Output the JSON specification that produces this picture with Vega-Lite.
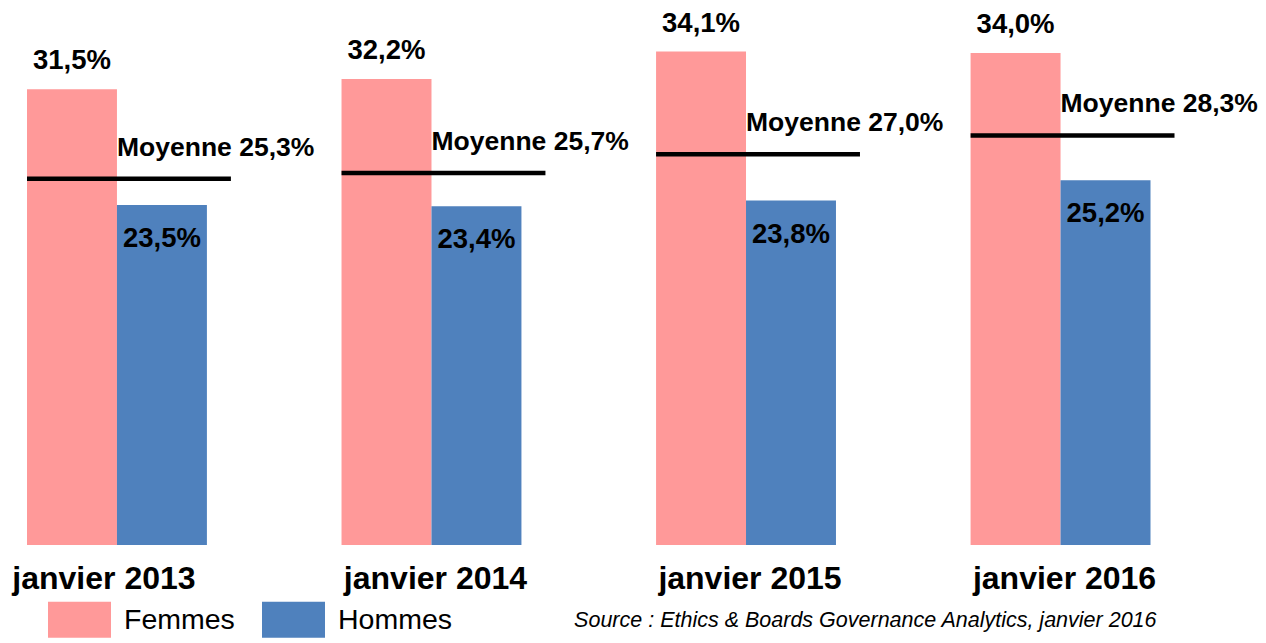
{
  "$schema": "https://vega.github.io/schema/vega-lite/v6.json",
  "width": 1123.5,
  "height": 545,
  "autosize": {"type": "none"},
  "padding": {"left": 27, "top": 0, "right": 115.5, "bottom": 98},
  "background": "white",
  "title": {
    "text": "Source : Ethics & Boards Governance Analytics, janvier 2016",
    "orient": "bottom",
    "anchor": "end",
    "frame": "group",
    "offset": -28,
    "dx": 6,
    "font": "Liberation Sans",
    "fontSize": 21.5,
    "fontStyle": "italic",
    "fontWeight": "normal",
    "color": "black"
  },
  "datasets": {
    "barres": [
      {"annee": "janvier 2013", "sexe": "Femmes", "part": 0.315},
      {"annee": "janvier 2013", "sexe": "Hommes", "part": 0.235},
      {"annee": "janvier 2014", "sexe": "Femmes", "part": 0.322},
      {"annee": "janvier 2014", "sexe": "Hommes", "part": 0.234},
      {"annee": "janvier 2015", "sexe": "Femmes", "part": 0.341},
      {"annee": "janvier 2015", "sexe": "Hommes", "part": 0.238},
      {"annee": "janvier 2016", "sexe": "Femmes", "part": 0.340},
      {"annee": "janvier 2016", "sexe": "Hommes", "part": 0.252}
    ],
    "moyennes": [
      {"annee": "janvier 2013", "moyenne": 0.253},
      {"annee": "janvier 2014", "moyenne": 0.257},
      {"annee": "janvier 2015", "moyenne": 0.270},
      {"annee": "janvier 2016", "moyenne": 0.283}
    ]
  },
  "encoding": {
    "x": {
      "field": "annee",
      "type": "nominal",
      "sort": null,
      "scale": {"paddingInner": 0.428, "paddingOuter": 0},
      "axis": {
        "title": null,
        "labelAngle": 0,
        "domain": false,
        "ticks": false,
        "grid": false,
        "labelPadding": 18,
        "labelLimit": 0,
        "labelFont": "Liberation Sans",
        "labelFontSize": 32,
        "labelFontWeight": "bold",
        "labelColor": "black",
        "labelOffset": {"condition": {"test": "datum.value === 'janvier 2013'", "value": -13}, "value": 4}
      }
    },
    "y": {
      "field": "part",
      "type": "quantitative",
      "scale": {"domain": [0, 0.3766], "nice": false, "zero": true},
      "axis": null
    }
  },
  "layer": [
    {
      "data": {"name": "barres"},
      "mark": {"type": "bar", "opacity": 1},
      "encoding": {
        "xOffset": {
          "field": "sexe",
          "type": "nominal",
          "scale": {"paddingInner": 0, "paddingOuter": 0}
        },
        "color": {
          "field": "sexe",
          "type": "nominal",
          "scale": {"domain": ["Femmes", "Hommes"], "range": ["#FF9999", "#4F81BD"]},
          "legend": {
            "title": null,
            "orient": "none",
            "direction": "horizontal",
            "legendX": 21,
            "legendY": 588,
            "padding": 0,
            "symbolType": "M-1,-0.571L1,-0.571L1,0.571L-1,0.571Z",
            "symbolSize": 3969,
            "symbolStrokeWidth": 0,
            "symbolOpacity": 1,
            "labelFont": "Liberation Sans",
            "labelFontSize": 28.5,
            "labelColor": "black",
            "labelOffset": 13,
            "columnPadding": 27,
            "labelLimit": 300
          }
        }
      }
    },
    {
      "data": {"name": "barres"},
      "transform": [{"filter": "datum.sexe === 'Femmes'"}],
      "mark": {
        "type": "text",
        "font": "Liberation Sans",
        "fontSize": 27.5,
        "fontWeight": "bold",
        "color": "black",
        "baseline": "alphabetic",
        "dy": -20
      },
      "encoding": {
        "xOffset": {"field": "sexe", "type": "nominal", "scale": {"domain": ["Femmes", "Hommes"], "paddingInner": 0, "paddingOuter": 0}},
        "text": {"field": "part", "type": "quantitative", "format": ".1%"}
      }
    },
    {
      "data": {"name": "barres"},
      "transform": [{"filter": "datum.sexe === 'Hommes'"}],
      "mark": {
        "type": "text",
        "font": "Liberation Sans",
        "fontSize": 27.5,
        "fontWeight": "bold",
        "color": "black",
        "baseline": "alphabetic",
        "dy": 42
      },
      "encoding": {
        "xOffset": {"field": "sexe", "type": "nominal", "scale": {"domain": ["Femmes", "Hommes"], "paddingInner": 0, "paddingOuter": 0}},
        "text": {"field": "part", "type": "quantitative", "format": ".1%"}
      }
    },
    {
      "data": {"name": "moyennes"},
      "mark": {"type": "rule", "color": "black", "strokeWidth": 4.5, "x2Offset": 24},
      "encoding": {
        "x": {"field": "annee", "type": "nominal", "sort": null, "bandPosition": 0},
        "x2": {"field": "annee", "bandPosition": 1},
        "y": {"field": "moyenne", "type": "quantitative"}
      }
    },
    {
      "data": {"name": "moyennes"},
      "transform": [{"calculate": "'Moyenne ' + format(datum.moyenne, '.1%')", "as": "etiquette"}],
      "mark": {
        "type": "text",
        "font": "Liberation Sans",
        "fontSize": 26.5,
        "fontWeight": "bold",
        "color": "black",
        "align": "left",
        "baseline": "alphabetic",
        "dx": 0,
        "dy": -23
      },
      "encoding": {
        "x": {"field": "annee", "type": "nominal", "sort": null, "bandPosition": 0.5},
        "y": {"field": "moyenne", "type": "quantitative"},
        "text": {"field": "etiquette", "type": "nominal"}
      }
    }
  ],
  "config": {
    "view": {"stroke": null},
    "locale": {
      "number": {
        "decimal": ",",
        "thousands": "\u00a0",
        "grouping": [3],
        "currency": ["", "\u00a0€"]
      }
    }
  }
}
